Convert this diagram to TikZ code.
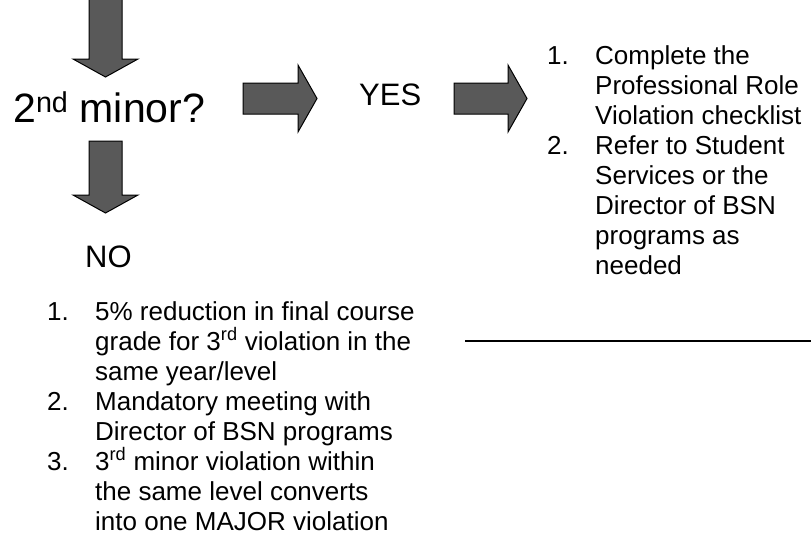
\documentclass[tikz,border=0pt]{standalone}
\usepackage{fontspec}
\setmainfont{Liberation Sans}
\begin{document}
\begin{tikzpicture}[x=1pt,y=-1pt,
  blockarrow/.style={fill=black!65, draw=black, line width=1pt, line join=miter},
  bigtxt/.style={inner sep=0pt, anchor=base west, font=\fontsize{41}{49}\selectfont},
  midtxt/.style={inner sep=0pt, anchor=base west, font=\fontsize{31}{37}\selectfont},
  listtxt/.style={inner sep=0pt, anchor=base west, font=\fontsize{26}{30}\selectfont},
  rule/.style={draw=black, line width=1.4pt}]
\useasboundingbox (0,0) rectangle (811,538);
\clip (0,0) rectangle (811,538);
\fill[white] (0,0) rectangle (811,538);

% block arrows
\draw[blockarrow] (89,-5) -- (122,-5) -- (122,59) -- (138,59) -- (105.5,77) -- (73,59) -- (89,59) -- cycle;
\draw[blockarrow] (89,141) -- (122,141) -- (122,195) -- (138,195) -- (105.5,213) -- (73,195) -- (89,195) -- cycle;
\draw[blockarrow] (243,83) -- (298,83) -- (298,65) -- (317,98.5) -- (298,132) -- (298,114) -- (243,114) -- cycle;
\draw[blockarrow] (454,83) -- (508,83) -- (508,65) -- (527,98.5) -- (508,132) -- (508,114) -- (454,114) -- cycle;

% main labels
\node[bigtxt] (q) at (13,122) {2\textsuperscript{nd} minor?};
\node[midtxt] (yes) at (359,105) {YES};
\node[midtxt] (no) at (85,267) {NO};

% right list
\node[listtxt] (r1) at (547,64) {1.};
\node[listtxt] (r1a) at (595,64) {Complete the};
\node[listtxt] (r1b) at (595,94) {Professional Role};
\node[listtxt] (r1c) at (595,124) {Violation checklist};
\node[listtxt] (r2) at (547,154) {2.};
\node[listtxt] (r2a) at (595,154) {Refer to Student};
\node[listtxt] (r2b) at (595,184) {Services or the};
\node[listtxt] (r2c) at (595,214) {Director of BSN};
\node[listtxt] (r2d) at (595,244) {programs as};
\node[listtxt] (r2e) at (595,274) {needed};

% bottom list
\node[listtxt] (b1) at (47,320) {1.};
\node[listtxt] (b1a) at (95,320) {5\% reduction in final course};
\node[listtxt] (b1b) at (95,350) {grade for 3\textsuperscript{rd} violation in the};
\node[listtxt] (b1c) at (95,380) {same year/level};
\node[listtxt] (b2) at (47,410) {2.};
\node[listtxt] (b2a) at (95,410) {Mandatory meeting with};
\node[listtxt] (b2b) at (95,440) {Director of BSN programs};
\node[listtxt] (b3) at (47,470) {3.};
\node[listtxt] (b3a) at (95,470) {3\textsuperscript{rd} minor violation within};
\node[listtxt] (b3b) at (95,500) {the same level converts};
\node[listtxt] (b3c) at (95,530) {into one MAJOR violation};

% rule
\coordinate (ls) at (465,341);
\coordinate (le) at (812,341);
\draw[rule] (ls) -- (le);
\end{tikzpicture}
\end{document}
